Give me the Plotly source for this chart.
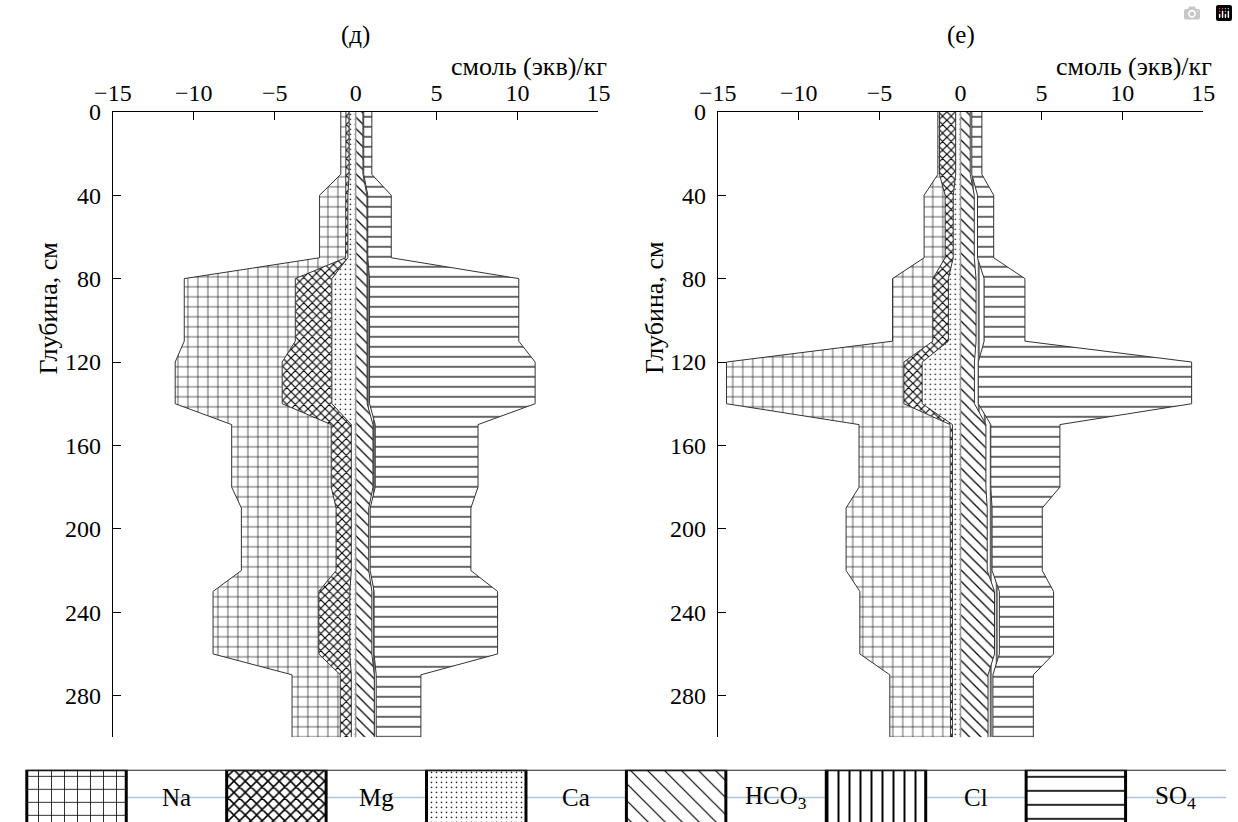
import numpy as np
import plotly.graph_objects as go

# ---------------- data ----------------
layer_top = [0, 40, 80, 120, 150, 190, 230, 270]
layer_bottom = [30, 70, 110, 140, 180, 220, 260, 300]

# panel (д), cmol(eq)/kg per layer
d_Na = [0.32, 1.61, 6.86, 6.61, 6.15, 5.85, 6.53, 2.98]
d_Mg = [0.20, 0.14, 2.26, 3.07, 1.24, 0.94, 1.92, 0.68]
d_Ca = [0.40, 0.48, 1.47, 1.47, 0.27, 0.27, 0.36, 0.27]
d_HCO3 = [0.45, 0.70, 0.71, 0.71, 1.07, 0.81, 1.00, 1.15]
d_Cl = [0.05, 0.05, 0.15, 0.15, 0.14, 0.09, 0.14, 0.12]
d_SO4 = [0.50, 1.45, 9.22, 10.23, 6.35, 6.22, 7.63, 2.76]

# panel (е)
e_Na = [0.10, 1.30, 2.49, 10.96, 5.63, 6.45, 5.60, 3.75]
e_Mg = [1.00, 0.50, 0.96, 1.13, 0.14, 0.12, 0.12, 0.12]
e_Ca = [0.30, 0.45, 0.75, 2.37, 0.50, 0.50, 0.50, 0.50]
e_HCO3 = [0.60, 0.85, 0.96, 0.86, 1.57, 1.65, 2.10, 1.70]
e_Cl = [0.10, 0.20, 0.50, 0.24, 0.30, 0.30, 0.30, 0.30]
e_SO4 = [0.62, 1.00, 2.52, 13.18, 4.27, 3.10, 3.35, 2.50]

x_ticks = [-15, -10, -5, 0, 5, 10, 15]
y_ticks = [0, 40, 80, 120, 160, 200, 240, 280]
ions = ["Na", "Mg", "Ca", "HCO<sub>3</sub>", "Cl", "SO<sub>4</sub>"]

# ---------------- styles ----------------
FONT = "Liberation Serif"
patterns = {
    "Na": dict(shape="+", size=10, solidity=0.12),
    "Mg": dict(shape="x", size=6, solidity=0.35),
    "Ca": dict(shape=".", size=5, solidity=0.08),
    "HCO3": dict(shape="\\", size=8, solidity=0.16),
    "Cl": dict(shape="|", size=6, solidity=0.2),
    "SO4": dict(shape="-", size=10, solidity=0.12),
}
leg_patterns = {
    "Na": dict(shape="+", size=13, solidity=0.12),
    "Mg": dict(shape="x", size=8, solidity=0.35),
    "Ca": dict(shape=".", size=5, solidity=0.08),
    "HCO3": dict(shape="\\", size=12, solidity=0.1),
    "Cl": dict(shape="|", size=11, solidity=0.18),
    "SO4": dict(shape="-", size=14, solidity=0.12),
}
leg_keys = ["Na", "Mg", "Ca", "HCO3", "Cl", "SO4"]


def fp(p):
    return dict(shape=p["shape"], size=p["size"], solidity=p["solidity"],
                fgcolor="black", bgcolor="white", fillmode="replace")


depth = np.ravel(np.column_stack([layer_top, layer_bottom]))


def expand(v):
    return np.repeat(np.asarray(v, float), 2)


fig = go.Figure()


def add_panel(Na, Mg, Ca, HCO3, Cl, SO4, xa, ya):
    zero = np.zeros_like(depth, dtype=float)
    fig.add_trace(go.Scatter(x=zero, y=depth, mode="lines", line=dict(width=0),
                             xaxis=xa, yaxis=ya, showlegend=False, hoverinfo="skip"))
    cum = np.zeros_like(depth, dtype=float)
    for key, vals in [("Ca", Ca), ("Mg", Mg), ("Na", Na)]:
        cum = cum - expand(vals)
        fig.add_trace(go.Scatter(x=cum.copy(), y=depth, mode="lines", fill="tonextx",
                                 fillpattern=fp(patterns[key]), fillcolor="white",
                                 line=dict(color="#333", width=1),
                                 xaxis=xa, yaxis=ya, showlegend=False, name=key))
    fig.add_trace(go.Scatter(x=zero, y=depth, mode="lines", line=dict(width=0),
                             xaxis=xa, yaxis=ya, showlegend=False, hoverinfo="skip"))
    cum = np.zeros_like(depth, dtype=float)
    for key, vals in [("HCO3", HCO3), ("Cl", Cl), ("SO4", SO4)]:
        cum = cum + expand(vals)
        fig.add_trace(go.Scatter(x=cum.copy(), y=depth, mode="lines", fill="tonextx",
                                 fillpattern=fp(patterns[key]), fillcolor="white",
                                 line=dict(color="#333", width=1),
                                 xaxis=xa, yaxis=ya, showlegend=False, name=key))


add_panel(d_Na, d_Mg, d_Ca, d_HCO3, d_Cl, d_SO4, "x", "y")
add_panel(e_Na, e_Mg, e_Ca, e_HCO3, e_Cl, e_SO4, "x2", "y2")

W, H = 1238, 822


def px_x(p):
    return p / W


def px_y(p):
    return 1 - p / H


y_dom = [px_y(736), px_y(100.4)]
tickfont = dict(family=FONT, size=24, color="black")

xcommon = dict(range=[-15, 15], side="top", tickvals=x_ticks, ticks="inside", ticklen=8,
               tickcolor="black", showline=True, linecolor="black", linewidth=1,
               showgrid=False, zeroline=False, tickfont=tickfont, fixedrange=True,
               ticklabelstandoff=0)
ycommon = dict(range=[300, 0], tickvals=y_ticks, ticks="inside", ticklen=8,
               tickcolor="black", showline=True, linecolor="black", linewidth=1,
               showgrid=False, zeroline=False, tickfont=tickfont, domain=y_dom,
               fixedrange=True, ticklabelstandoff=6)

fig.update_layout(
    width=W, height=H, margin=dict(l=0, r=0, t=0, b=0),
    paper_bgcolor="white", plot_bgcolor="rgba(0,0,0,0)",
    xaxis=dict(xcommon, domain=[px_x(96.3), px_x(594.3)], anchor="y"),
    yaxis=dict(ycommon, anchor="x"),
    xaxis2=dict(xcommon, domain=[px_x(716.7), px_x(1214.7)], anchor="y2"),
    yaxis2=dict(ycommon, anchor="x2"),
    xaxis3=dict(domain=[0, 1], range=[0, W], visible=False, fixedrange=True, anchor="y3"),
    yaxis3=dict(domain=[0, px_y(769)], range=[0, 1], visible=False, fixedrange=True, anchor="x3"),
    showlegend=False,
)

for xa, ya in [("x", "y"), ("x2", "y2")]:
    fig.add_shape(type="line", xref=xa, yref=ya, x0=0, x1=0, y0=0, y1=302,
                  line=dict(color="#9a9a9a", width=1.5), layer="above")

for xa, lab in [("x", "(д)"), ("x2", "(е)")]:
    fig.add_annotation(xref=xa, yref="paper", x=0, y=px_y(22), text=lab, showarrow=False,
                       font=dict(family=FONT, size=25, color="black"),
                       xanchor="center", yanchor="middle")
    fig.add_annotation(xref=xa + " domain", yref="paper", x=1, y=px_y(54), xshift=11,
                       text="смоль (экв)/кг", showarrow=False, xanchor="right",
                       yanchor="middle", font=dict(family=FONT, size=26, color="black"))
for xp in [30, 652]:
    fig.add_annotation(xref="paper", yref="paper", x=px_x(xp), y=px_y(300),
                       text="Глубина, см", textangle=-90, showarrow=False,
                       xanchor="center", yanchor="middle",
                       font=dict(family=FONT, size=26, color="black"))

# ---------------- legend strip ----------------
leg_start, pair_w, pat_w = 8, 205, 102
fig.add_shape(type="line", xref="x3", yref="y3", x0=leg_start, x1=W, y0=0.47, y1=0.47,
              line=dict(color="#b0c4d8", width=1.5), layer="below")
fig.add_shape(type="line", xref="x3", yref="y3", x0=leg_start, x1=W, y0=1, y1=1,
              line=dict(color="#222", width=2), layer="above")
for i, (key, lab) in enumerate(zip(leg_keys, ions)):
    x0 = leg_start + i * pair_w
    x1 = x0 + pat_w
    fig.add_trace(go.Scatter(x=[x0, x1, x1, x0, x0], y=[-0.5, -0.5, 1, 1, -0.5],
                             mode="lines", fill="toself", fillcolor="white",
                             fillpattern=fp(leg_patterns[key]), line=dict(color="black", width=3),
                             xaxis="x3", yaxis="y3", showlegend=False, hoverinfo="skip"))
    fig.add_annotation(xref="x3", yref="y3", x=x1 + (pair_w - pat_w) / 2, y=0.47,
                       text=lab, showarrow=False, xanchor="center", yanchor="middle",
                       font=dict(family=FONT, size=25, color="black"))

fig.write_html("out.html",
               post_script="document.body.style.margin='0';document.body.style.overflow='hidden';")
